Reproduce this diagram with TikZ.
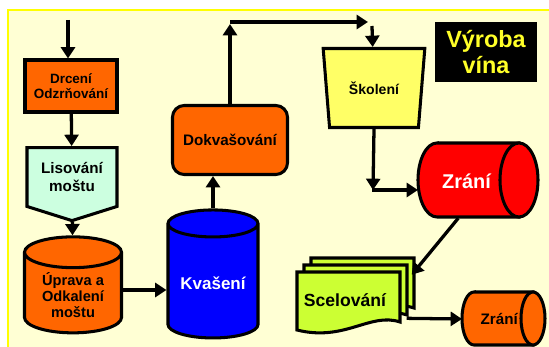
\documentclass[tikz,border=0pt]{standalone}
\usepackage{fontspec}
\setmainfont{Liberation Sans}
\usetikzlibrary{shapes.geometric,shapes.symbols,arrows.meta}
\definecolor{cream}{RGB}{255,255,212}
\definecolor{framey}{RGB}{255,255,0}
\definecolor{orng}{RGB}{255,102,0}
\definecolor{mint}{RGB}{204,255,224}
\definecolor{lemon}{RGB}{255,255,102}
\definecolor{lime}{RGB}{204,255,51}
\definecolor{gold}{RGB}{255,255,40}
\tikzset{
  flow/.style={line width=2.8pt, -{Triangle[width=0.42cm,length=0.34cm]}},
  stage/.style={draw, line width=2.6pt, font=\bfseries, align=center, inner sep=1pt},
  vcyl/.style={stage, cylinder, shape border rotate=90, cylinder uses custom fill},
  label/.style={anchor=west, font=\bfseries},
}
\newcommand{\fs}[2]{\fontsize{#1}{#2}\selectfont}
% lying drum: colour, left/right end centres, top, bottom, radii
\newcommand{\hdrum}[7]{%
  \filldraw[fill=#1, draw=black, line width=2.6pt] (#2,#4) -- (#3,#4) -- (#3,#5) -- (#2,#5)
    arc[start angle=270, end angle=90, x radius=#6, y radius=#7] -- cycle;
  \filldraw[fill=#1, draw=black, line width=2.6pt] ({#3},{(#4+#5)/2}) ellipse [x radius=#6, y radius=#7];}

\begin{document}
\begin{tikzpicture}[x=0.03cm, y=-0.03cm]
    \useasboundingbox (0,0) rectangle (549,347);
    \fill[cream] (8,10) rectangle (549,347);
    \draw[framey, line width=1.5pt] (8,347) -- (8,10) -- (549,10);

    % left column
    \coordinate (in) at (68,20);
    \node[stage, fill=orng, minimum width=2.76cm, minimum height=1.56cm, font=\bfseries\fs{11.5}{13}] (drc) at (71,86) {Drcení\\Odzrňování};
    \node[stage, fill=mint, signal, signal to=south, signal pointer angle=145, minimum width=2.7cm, minimum height=2.07cm, font=\bfseries\fs{13}{15}] (lis) at (72,177) {Lisování\\moštu};
    \node[vcyl, cylinder body fill=orng, cylinder end fill=orng, aspect=0.48, minimum width=2.91cm, minimum height=2.88cm, font=\bfseries\fs{12.5}{14}] (upr) at (73,295) {Úprava a\\Odkalení\\moštu};
    \draw (in) edge[flow] (in |- drc.north);
    \draw (drc) edge[flow] (lis);
    \draw (lis) edge[flow] (upr);

    % middle
    \node[vcyl, cylinder body fill=blue, cylinder end fill=blue, aspect=0.4, minimum width=2.7cm, minimum height=3.84cm, text=white, font=\bfseries\fs{14.5}{17}] (kva) at (213,283) {Kvašení};
    \node[stage, fill=orng, rounded corners=0.35cm, minimum width=3.45cm, minimum height=2.07cm, font=\bfseries\fs{13}{15}] (dok) at (230,140) {Dokvašování};
    \draw ([yshift=0.15cm]upr.east) edge[flow] ([yshift=0.15cm]upr.east -| kva.west);
    \draw (kva.north) edge[flow] (kva.north |- dok.south);

    % top right
    \coordinate (up) at (230,24);
    \coordinate (over) at (368,22);
    \coordinate (down) at (372,26);
    \node[stage, fill=lemon, trapezium, shape border rotate=180, trapezium stretches=true, trapezium angle=76, minimum width=3.06cm, minimum height=2.37cm, font=\bfseries\fs{12}{14}] (sko) at (374,88) {Školení};
    \node[fill=black, text=gold, minimum width=3.06cm, minimum height=1.8cm, align=center, font=\bfseries\fs{20}{22}] (vyr) at (486,52) {Výroba\\vína};
    \draw (dok.north) edge[flow] (up);
    \draw (230,22) edge[flow] (over);
    \draw (down) edge[flow] (sko);

    % right side
    \hdrum{red}{437}{519}{143}{217}{0.57cm}{1.11cm}
    \node[label, text=white, minimum width=2.9cm, minimum height=2.22cm, font=\bfseries\fs{17}{19}] (zr1) at (418,181) {Zrání};
    \coordinate (bend) at (373,190);
    \draw (sko.south) edge[flow] (bend);
    \draw (372,190) edge[flow] (bend -| zr1.west);

    % multi document
    \foreach \s in {14,7,0}
      \filldraw[fill=lime, draw=black, line width=2.6pt, shift={(\s,-\s)}]
        (297,272) -- (400,272) -- (400,322) .. controls (370,312) and (345,342) .. (297,330) -- cycle;
    \node[font=\bfseries\fs{15}{17}, minimum width=3.09cm, minimum height=1.5cm] (sce) at (345,300) {Scelování};
    \hdrum{orng}{474}{533}{292}{345}{0.36cm}{0.795cm}
    \node[label, minimum width=2.22cm, minimum height=1.59cm, font=\bfseries\fs{13}{15}] (zr2) at (462,319) {Zrání};
    \draw ([xshift=-0.25cm]zr1.south) edge[flow] ([xshift=0.45cm]sce.north east);
    \draw ([xshift=0.3cm,yshift=-0.55cm]sce.east) edge[flow] (zr2.west);
\end{tikzpicture}
\end{document}
